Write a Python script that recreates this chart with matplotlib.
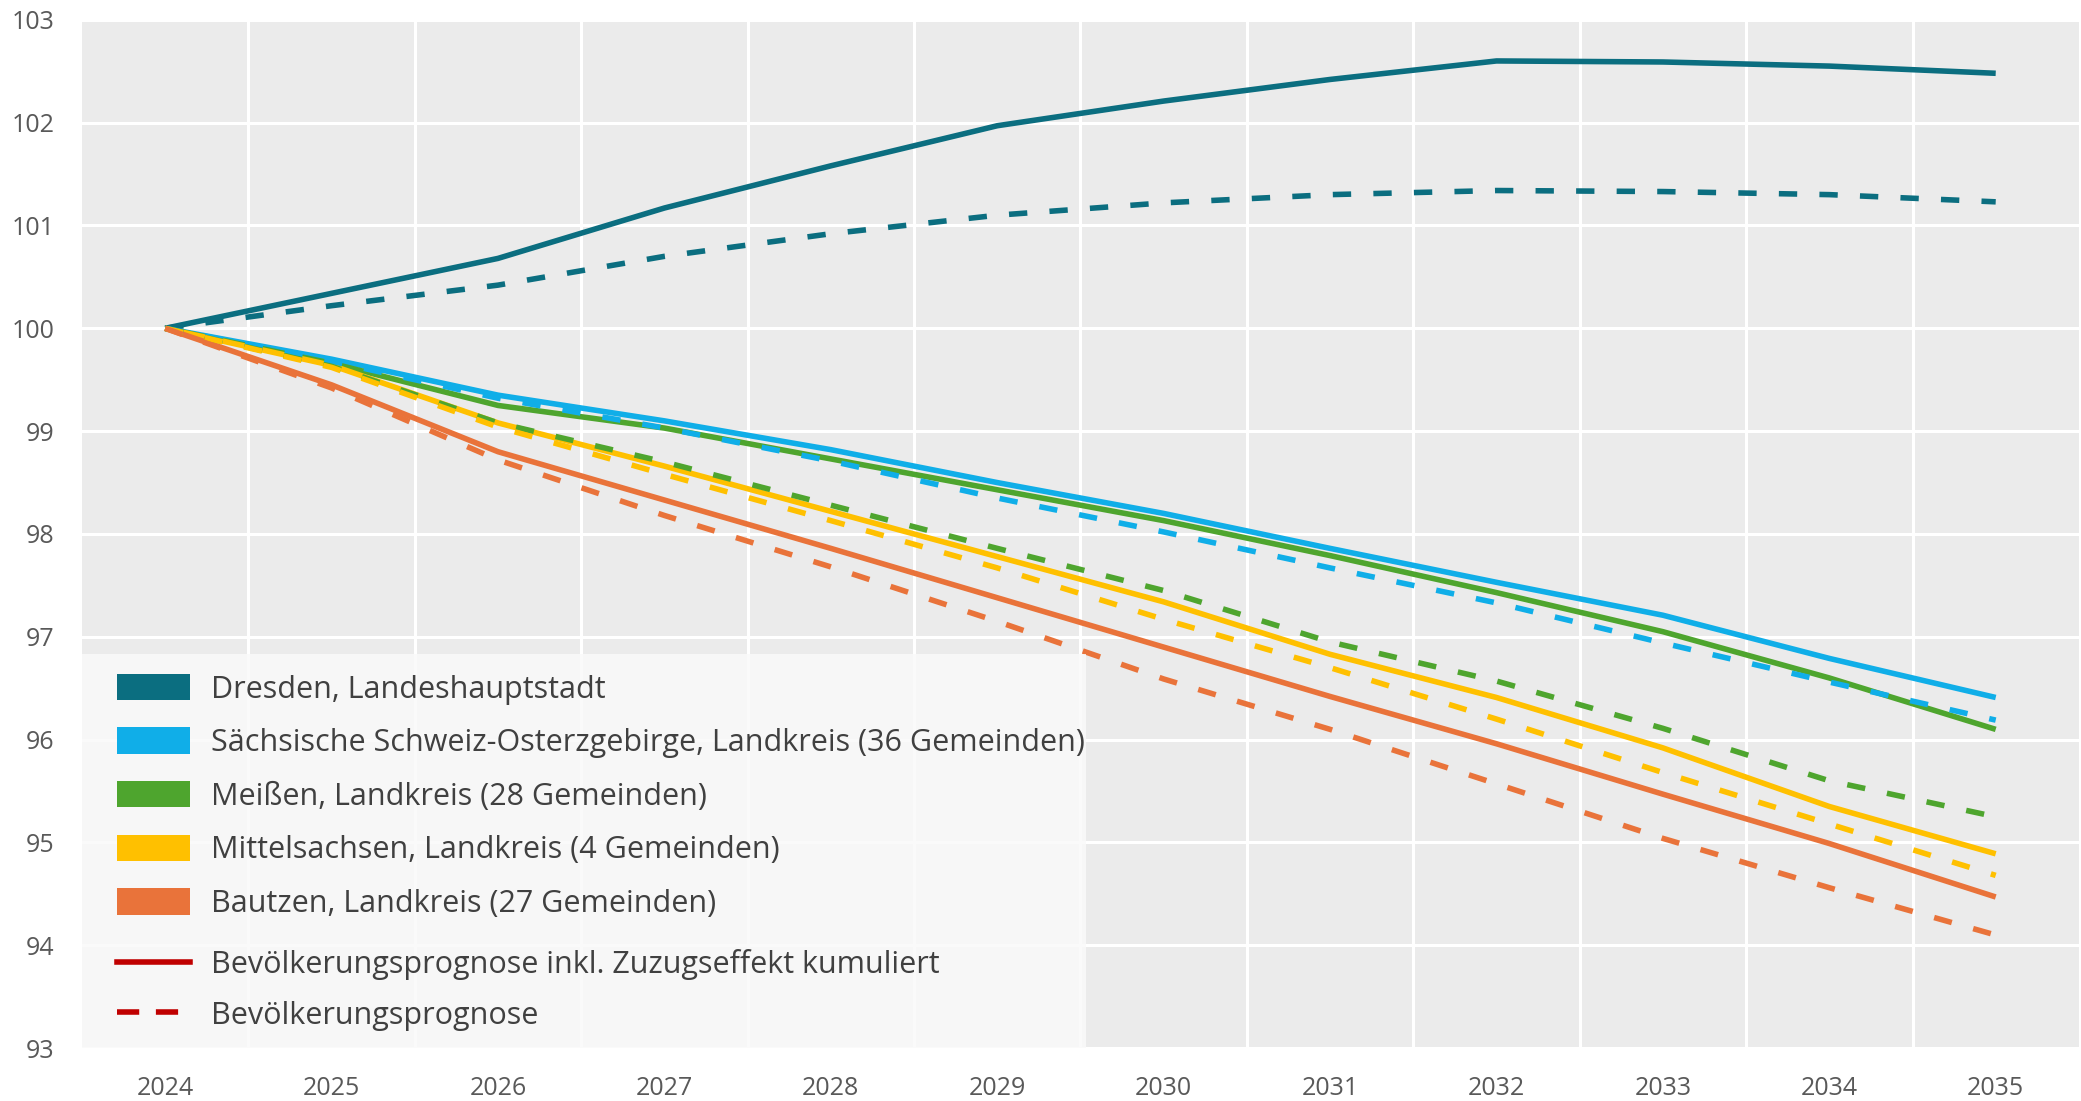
import matplotlib
matplotlib.use("Agg")
import matplotlib.pyplot as plt
from matplotlib.lines import Line2D
from matplotlib.patches import Patch, Rectangle

plt.rcParams["font.family"] = ["Open Sans", "DejaVu Sans"]

years = [2024, 2025, 2026, 2027, 2028, 2029, 2030, 2031, 2032, 2033, 2034, 2035]

regions = [
    "Dresden, Landeshauptstadt",
    "Sächsische Schweiz-Osterzgebirge, Landkreis (36 Gemeinden)",
    "Meißen, Landkreis (28 Gemeinden)",
    "Mittelsachsen, Landkreis (4 Gemeinden)",
    "Bautzen, Landkreis (27 Gemeinden)",
]
colors = ["#0B6E80", "#10AEE8", "#4EA52E", "#FFC000", "#E9733A"]

# Bevölkerungsprognose inkl. Zuzugseffekt kumuliert (solid)
dresden_zuzug = [100, 100.34, 100.68, 101.17, 101.58, 101.97, 102.21, 102.42, 102.60, 102.59, 102.55, 102.48]
saechs_zuzug = [100, 99.70, 99.35, 99.10, 98.82, 98.50, 98.20, 97.86, 97.53, 97.21, 96.79, 96.41]
meissen_zuzug = [100, 99.66, 99.25, 99.03, 98.73, 98.43, 98.13, 97.79, 97.43, 97.05, 96.60, 96.10]
mittel_zuzug = [100, 99.64, 99.08, 98.66, 98.22, 97.78, 97.34, 96.83, 96.41, 95.92, 95.35, 94.89]
bautzen_zuzug = [100, 99.45, 98.80, 98.33, 97.86, 97.38, 96.90, 96.42, 95.96, 95.47, 94.99, 94.47]

# Bevölkerungsprognose (dashed)
dresden_prog = [100, 100.22, 100.42, 100.70, 100.92, 101.10, 101.22, 101.30, 101.34, 101.33, 101.30, 101.23]
saechs_prog = [100, 99.68, 99.32, 99.03, 98.71, 98.35, 98.02, 97.67, 97.33, 96.94, 96.56, 96.19]
meissen_prog = [100, 99.63, 99.08, 98.70, 98.28, 97.86, 97.45, 96.95, 96.57, 96.11, 95.60, 95.25]
mittel_prog = [100, 99.62, 99.04, 98.58, 98.13, 97.67, 97.17, 96.70, 96.20, 95.68, 95.18, 94.68]
bautzen_prog = [100, 99.42, 98.72, 98.18, 97.68, 97.15, 96.59, 96.10, 95.57, 95.04, 94.56, 94.10]

solid_series = [dresden_zuzug, saechs_zuzug, meissen_zuzug, mittel_zuzug, bautzen_zuzug]
dashed_series = [dresden_prog, saechs_prog, meissen_prog, mittel_prog, bautzen_prog]

line_labels = [
    "Bevölkerungsprognose inkl. Zuzugseffekt kumuliert",
    "Bevölkerungsprognose",
]

fig = plt.figure(figsize=(20.81, 11.01), dpi=100)
ax = fig.add_axes([0.0394, 0.048, 0.9596, 0.934])
ax.set_facecolor("#EBEBEB")
for s in ax.spines.values():
    s.set_visible(False)

x = list(range(len(years)))
for vals, c in zip(solid_series, colors):
    ax.plot(x, vals, color=c, lw=4.0, solid_capstyle="butt", zorder=3)
for vals, c in zip(dashed_series, colors):
    ax.plot(x, vals, color=c, lw=4.0, dashes=(3.3, 4.0), dash_capstyle="butt", zorder=3)

ax.set_xlim(-0.5, len(years) - 0.5)
ax.set_ylim(93, 103)
ax.set_yticks(range(93, 104))
ax.set_xticks(x)
ax.set_xticklabels([str(y) for y in years])
ax.set_xticks([i + 0.5 for i in x[:-1]], minor=True)
ax.grid(False)
ax.yaxis.grid(True, color="white", lw=2.2, zorder=1)
ax.xaxis.grid(True, which="minor", color="white", lw=2.2, zorder=1)
ax.set_axisbelow(True)
ax.tick_params(axis="both", which="both", length=0, colors="#595959", labelsize=18)
ax.tick_params(axis="x", pad=20)
ax.tick_params(axis="y", pad=20)

# legend background box, flush with the lower left corner of the plot area
ax.add_patch(Rectangle((0, 0), 0.503, 0.383, transform=ax.transAxes,
                       facecolor="#FAFAFA", edgecolor="none", alpha=0.82, zorder=4))

leg_style = dict(
    loc="upper left", borderaxespad=0, borderpad=0,
    fontsize=22, labelcolor="#404040",
    handlelength=2.4, handleheight=0.95, handletextpad=0.7,
    labelspacing=0.75, frameon=False,
)

patch_handles = [Patch(facecolor=c, edgecolor="none") for c in colors]
leg1 = ax.legend(patch_handles, regions, bbox_to_anchor=(0.0173, 0.364), **leg_style)
leg1.set_zorder(5)
ax.add_artist(leg1)

line_handles = [
    Line2D([], [], color="#C00000", lw=4),
    Line2D([], [], color="#C00000", lw=4, dashes=(4.0, 3.0)),
]
leg2 = ax.legend(line_handles, line_labels, bbox_to_anchor=(0.0173, 0.096),
                 **{**leg_style, "labelspacing": 0.65})
leg2.set_zorder(5)

fig.savefig("out.png", dpi=100)
